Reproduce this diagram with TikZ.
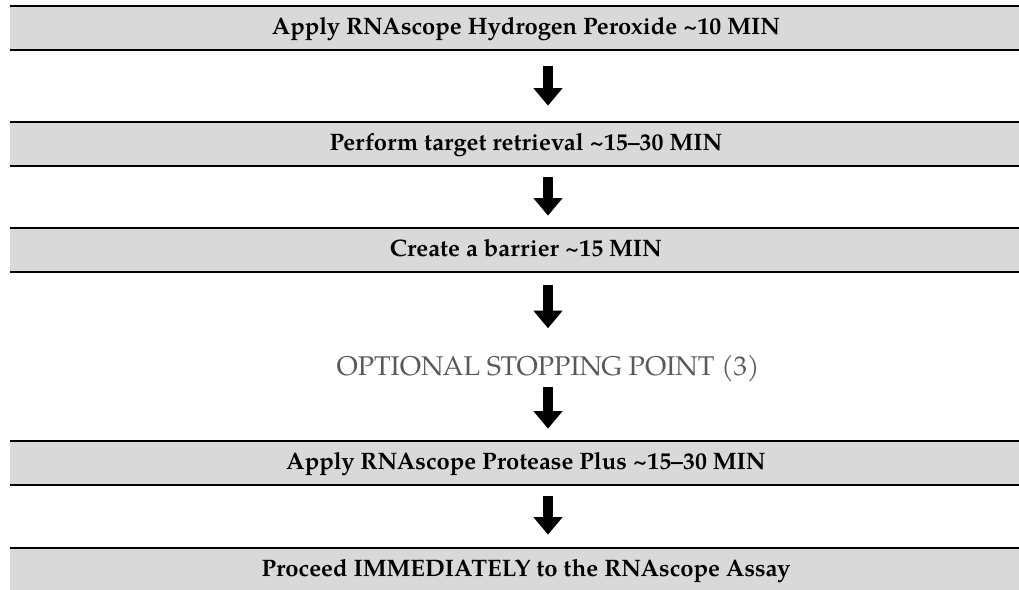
\documentclass[tikz,border=0pt]{standalone}
\usepackage{fontspec}
\setmainfont{TeX Gyre Pagella}
\usetikzlibrary{arrows.meta}
\definecolor{bandgray}{RGB}{217,217,217}
\definecolor{optgray}{RGB}{89,89,89}
\begin{document}
\begin{tikzpicture}[x=0.02cm,y=-0.02cm,
  band/.style={fill=bandgray,minimum width=20.64cm,minimum height=0.88cm,inner sep=0pt,text height=0.69em,text depth=0pt,font=\fontsize{13.55}{16}\selectfont\bfseries},
  optstop/.style={anchor=base,inner sep=0pt,text height=0.7em,text depth=0.25em,text=optgray,font=\fontsize{15.4}{18}\selectfont},
  bandline/.style={line width=0.04cm},
  flow/.style={line width=0.186cm,-{Triangle[width=0.56cm,length=0.35cm]}}]
\clip (0,0) rectangle (1019,590);
\coordinate (ax) at (548,0);
\node[band] (b1) at (526,28) {Apply RNAscope Hydrogen Peroxide \textasciitilde10 MIN};
\node[band] (b2) at (526,144) {Perform target retrieval \textasciitilde15--30 MIN};
\node[band] (b3) at (526,250) {Create a barrier \textasciitilde15 MIN};
\node[optstop] (opt) at (548,375.5) {OPTIONAL STOPPING POINT (3)};
\node[band] (b4) at (526,463) {Apply RNAscope Protease Plus \textasciitilde15--30 MIN};
\node[band] (b5) at (526,570) {Proceed IMMEDIATELY to the RNAscope Assay};
\foreach \b in {b1,b2,b3,b4,b5}{\draw[bandline] (\b.north west) -- (\b.north east) (\b.south west) -- (\b.south east);}
\foreach \a/\b/\s/\e in {b1/b2/16/16,b2/b3/11/12,b3/opt/13/34.6,opt/b4/6.7/12,b4/b5/11/13}
  {\draw[flow,shorten <=\s*0.02cm,shorten >=\e*0.02cm] (\a.south -| ax) -- (\b.north -| ax);}
\end{tikzpicture}
\end{document}
